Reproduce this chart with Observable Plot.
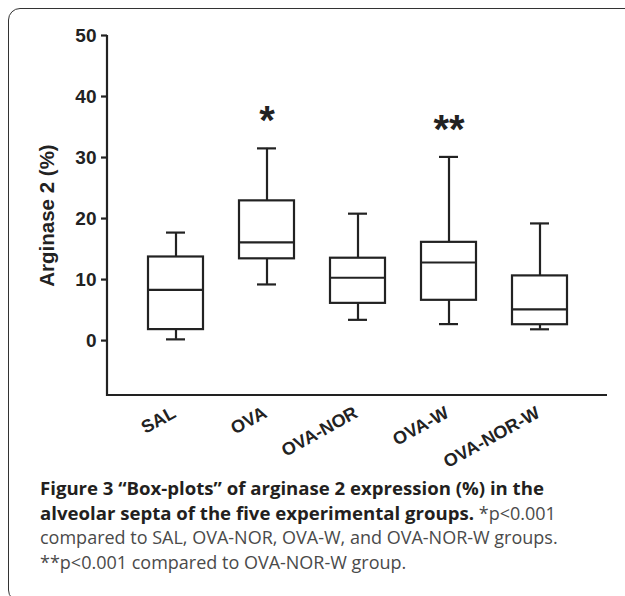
<!DOCTYPE html>
<html>
<head>
<meta charset="utf-8">
<script src="https://cdn.jsdelivr.net/npm/d3@7"></script>
<script src="https://cdn.jsdelivr.net/npm/@observablehq/plot@0.6"></script>
<style>
  html, body { margin: 0; padding: 0; background: #fff; }
  #wrap { position: relative; width: 625px; height: 596px; overflow: hidden; }
  #border { position: absolute; left: 8px; top: 8px; width: 640px; height: 594px;
            border: 1.5px solid #333; border-radius: 12px; box-sizing: border-box; }
  #chart { position: absolute; left: 0; top: 0; }
  #cap { position: absolute; left: 40px; top: 476px; width: 580px;
         font-family: "Open Sans", sans-serif; font-size: 18px; line-height: 24.5px;
         color: #4a4a4a; white-space: nowrap; }
  #cap b { color: #231f20; font-weight: 700; font-size: 18.6px; }
</style>
</head>
<body>
<div id="wrap">
  <div id="border"></div>
  <div id="chart"></div>
  <div id="cap"><b>Figure 3 “Box-plots” of arginase 2 expression (%) in the<br>alveolar septa of the five experimental groups.</b> *p&lt;0.001<br>compared to SAL, OVA-NOR, OVA-W, and OVA-NOR-W groups.<br>**p&lt;0.001 compared to OVA-NOR-W group.</div>
</div>
<script>
const groups = ["SAL", "OVA", "OVA-NOR", "OVA-W", "OVA-NOR-W"];
const whiskerLow = [0.2, 9.2, 3.4, 2.7, 1.85];
const q1 = [1.8, 13.4, 6.1, 6.6, 2.6];
const median = [8.3, 16.1, 10.3, 12.8, 5.1];
const q3 = [13.7, 22.9, 13.5, 16.1, 10.6];
const whiskerHigh = [17.7, 31.5, 20.8, 30.1, 19.2];
const yTicks = [0, 10, 20, 30, 40, 50];
const yDomain = [-9, 50];
const sigGroups = ["OVA", "OVA-W"];
const sigLabels = ["*", "**"];
const sigY = [37.6, 36.2];
const yLabel = "Arginase 2 (%)";

const rows = groups.map((g, i) => ({
  group: g, low: whiskerLow[i], q1: q1[i], med: median[i], q3: q3[i], high: whiskerHigh[i]
}));
const sig = sigGroups.map((g, i) => ({group: g, label: sigLabels[i], y: sigY[i]}));

const ink = "#222";
const sw = 2.2;
const font = "'Liberation Sans', Arial, sans-serif";

const axisLines = (index, scales, values, dim) => {
  const g = d3.create("svg:g").attr("stroke", ink).attr("stroke-width", sw).attr("fill", "none");
  const x0 = dim.marginLeft, x1 = dim.width - dim.marginRight;
  const yT = scales.y(yDomain[1]), yB = dim.height - dim.marginBottom;
  g.append("path").attr("d", `M${x0},${yT}V${yB}H${x1}`);
  return g.node();
};

const chart = Plot.plot({
  width: 625,
  height: 485,
  marginLeft: 107,
  marginRight: 18,
  marginTop: 35,
  marginBottom: 90,
  style: {fontFamily: font, color: ink, background: "transparent", overflow: "visible"},
  x: {domain: groups, paddingInner: 0.4, paddingOuter: 0.44, axis: null},
  y: {domain: yDomain, axis: null},
  marks: [
    Plot.ruleX(rows, {x: "group", y1: "low", y2: "q1", stroke: ink, strokeWidth: sw}),
    Plot.ruleX(rows, {x: "group", y1: "q3", y2: "high", stroke: ink, strokeWidth: sw}),
    Plot.tickY(rows, {x: "group", y: "low", stroke: ink, strokeWidth: sw, insetLeft: 18, insetRight: 18}),
    Plot.tickY(rows, {x: "group", y: "high", stroke: ink, strokeWidth: sw, insetLeft: 18, insetRight: 18}),
    Plot.barY(rows, {x: "group", y1: "q1", y2: "q3", fill: "white", stroke: ink, strokeWidth: sw}),
    Plot.tickY(rows, {x: "group", y: "med", stroke: ink, strokeWidth: sw}),
    Plot.text(sig, {x: "group", y: "y", text: "label", fontSize: 40, fontWeight: "bold", fill: ink,
                    lineAnchor: "bottom", dy: 23}),
    Plot.axisY(yTicks, {tickSize: 6, tickPadding: 5, fontSize: 19, fontWeight: "bold", label: null,
                        stroke: ink, strokeWidth: sw, fill: ink}),
    Plot.text(groups, {x: d => d, frameAnchor: "bottom", dx: 1, dy: 21, rotate: -29,
                       textAnchor: "end", lineAnchor: "bottom", fontSize: 18, fontWeight: "bold", fill: ink}),
    Plot.text([yLabel], {frameAnchor: "left", dx: -60, rotate: -90, textAnchor: "middle",
                         lineAnchor: "middle", fontSize: 20.5, fontWeight: "bold", fill: ink}),
    axisLines
  ]
});
document.getElementById("chart").appendChild(chart);
</script>
</body>
</html>
